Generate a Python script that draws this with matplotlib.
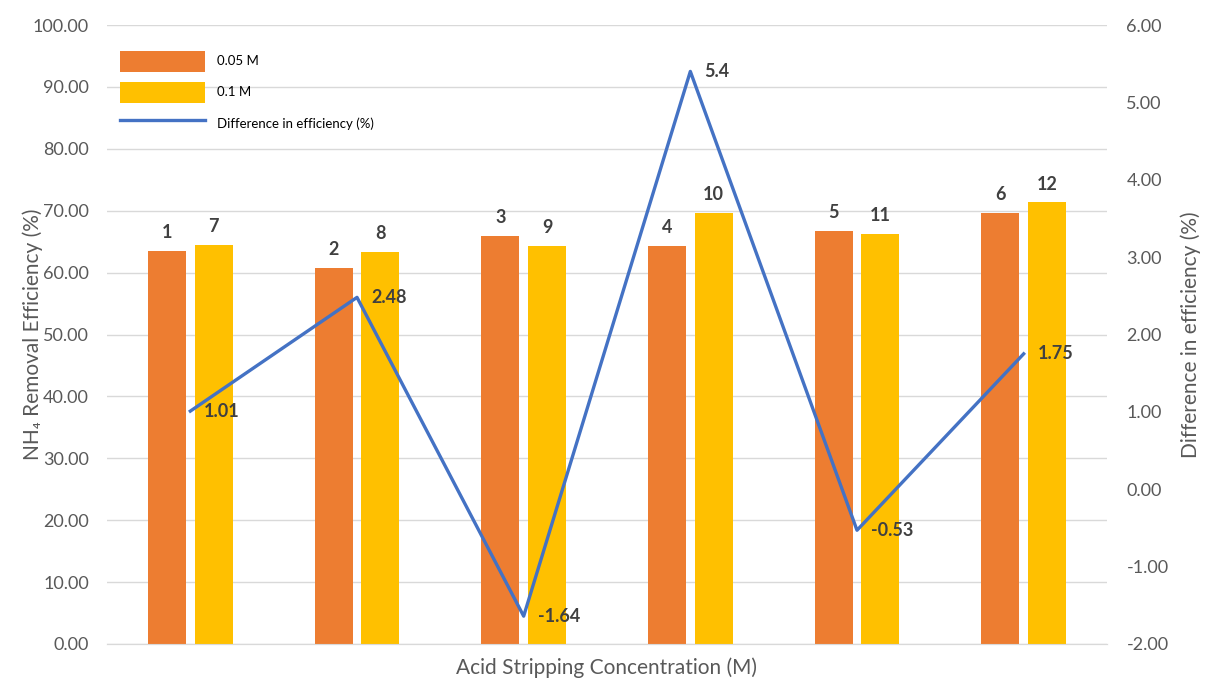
import matplotlib
matplotlib.use("Agg")
import matplotlib.pyplot as plt
import numpy as np

# Removal efficiency (%) for each run, two acid concentrations
groups = ["1", "2", "3", "4", "5", "6"]
eff_005 = [63.5, 60.8, 65.9, 64.3, 66.7, 69.6]
eff_01 = [64.5, 63.3, 64.3, 69.7, 66.2, 71.35]
labels_005 = ["1", "2", "3", "4", "5", "6"]
labels_01 = ["7", "8", "9", "10", "11", "12"]
# Difference in efficiency (%)
diff = [1.01, 2.48, -1.64, 5.4, -0.53, 1.75]

left_ticks = np.arange(0, 101, 10)
right_ticks = np.arange(-2, 7, 1)

ORANGE = "#ED7D31"
YELLOW = "#FFC000"
BLUE = "#4472C4"
GRAY = "#595959"
DARK = "#404040"

plt.rcParams["font.family"] = ["Lato", "DejaVu Sans"]

fig = plt.figure(figsize=(12.06, 6.79), dpi=100)
ax = fig.add_axes([107 / 1206, 35 / 679, 1000 / 1206, 619 / 679])
ax2 = ax.twinx()

x = np.arange(len(groups))
w = 0.228
off = 0.14
b1 = ax.bar(x - off, eff_005, w, color=ORANGE, label="0.05 M", zorder=3)
b2 = ax.bar(x + off, eff_01, w, color=YELLOW, label="0.1 M", zorder=3)

for xi, v, t in zip(x - off, eff_005, labels_005):
    ax.annotate(t, (xi, v), xytext=(0, 7), textcoords="offset points",
                ha="center", va="bottom", fontsize=13, fontweight="bold", color=DARK)
for xi, v, t in zip(x + off, eff_01, labels_01):
    ax.annotate(t, (xi, v), xytext=(0, 7), textcoords="offset points",
                ha="center", va="bottom", fontsize=13, fontweight="bold", color=DARK)

ax.set_ylim(0, 100)
ax.set_yticks(left_ticks)
ax.set_yticklabels([f"{t:.2f}" for t in left_ticks])
ax.set_xlim(-0.5, len(groups) - 0.5)
ax.set_xticks([])
ax.grid(axis="y", color="#D9D9D9", linewidth=1, zorder=0)
ax.set_axisbelow(True)

line, = ax2.plot(x, diff, color=BLUE, linewidth=2.4, label="Difference in efficiency (%)", zorder=4)
for xi, v in zip(x, diff):
    ax2.annotate(f"{v:g}", (xi, v), xytext=(10, 0), textcoords="offset points",
                 ha="left", va="center", fontsize=13, fontweight="bold", color=DARK)
ax2.set_ylim(-2, 6)
ax2.set_yticks(right_ticks)
ax2.set_yticklabels([f"{t:.2f}" for t in right_ticks])

for a in (ax, ax2):
    for s in ("top", "left", "right"):
        a.spines[s].set_visible(False)
    a.spines["bottom"].set_color("#D9D9D9")
    a.tick_params(length=0, labelsize=13, colors=GRAY)

ax.tick_params(axis="y", pad=13)
ax2.tick_params(axis="y", pad=14)

ax.set_ylabel("NH₄ Removal Efficiency (%)", fontsize=15, color=GRAY)
ax.yaxis.set_label_coords(-0.064, 0.5)
ax2.set_ylabel("Difference in efficiency (%)", fontsize=15, color=GRAY)
ax2.yaxis.set_label_coords(1.073, 0.5)
ax.set_xlabel("Acid Stripping Concentration (M)", fontsize=15, color=GRAY, labelpad=10)

ax.legend([b1, b2, line], ["0.05 M", "0.1 M", "Difference in efficiency (%)"],
          loc="upper left", bbox_to_anchor=(0.0, 0.98), frameon=False,
          fontsize=9.5, handlelength=6.4, handleheight=2.1, labelspacing=0.75,
          handletextpad=0.9, borderaxespad=0.6)

fig.savefig("out.png", dpi=100)
